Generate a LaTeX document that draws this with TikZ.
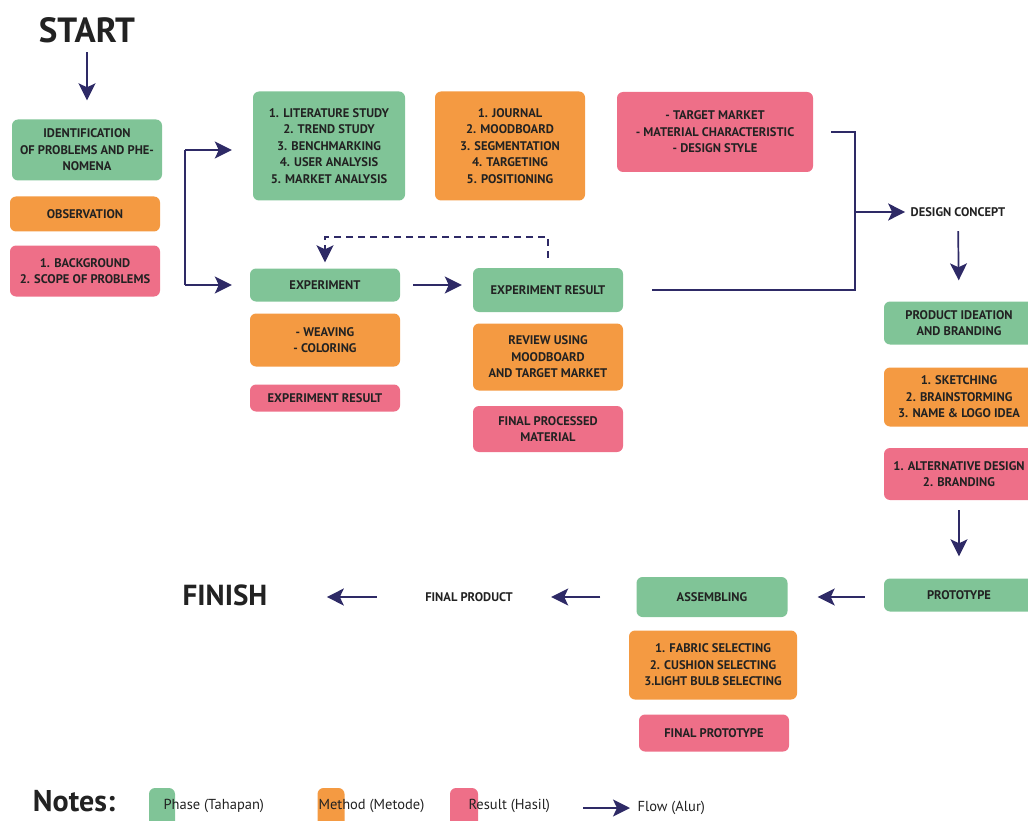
\documentclass[tikz,border=0pt]{standalone}
\usepackage{fontspec}
\setmainfont{PT Sans}
\usetikzlibrary{positioning,arrows.meta}
\definecolor{phasegreen}{HTML}{80C497}
\definecolor{methodorange}{HTML}{F49A42}
\definecolor{resultpink}{HTML}{EE6F88}
\definecolor{flownavy}{HTML}{2E2A66}
\definecolor{inkgray}{HTML}{222222}

\begin{document}
\begin{tikzpicture}[x=1pt, y=-1pt, font=\fontsize{12.5}{16.5}\selectfont\bfseries, text=inkgray,
	stagebox/.style={rounded corners=6pt, align=center, inner sep=2pt, minimum width=150pt},
	phase/.style={stagebox, fill=phasegreen},
	method/.style={stagebox, fill=methodorange},
	result/.style={stagebox, fill=resultpink},
	link/.style={draw=flownavy, line width=1.7pt},
	flow/.style={link, -{Stealth[length=17pt, width=17pt, inset=4pt]}},
	bigword/.style={font=\fontsize{35}{35}\selectfont\bfseries},
	keytext/.style={anchor=west, font=\fontsize{14.5}{15}\selectfont},]

\useasboundingbox (0,0) rectangle (1028,821);

\node[bigword] (start) at (87,30) {START};
\node[phase, minimum height=61pt] (ident) at (87,150) {IDENTIFICATION\\OF PROBLEMS AND PHE-\\NOMENA};
\node[method, minimum height=35pt] (observ) at (85,214) {OBSERVATION};
\node[result, minimum height=51pt] (backgr) at (85,271) {1. BACKGROUND\\2. SCOPE OF PROBLEMS};

\node[phase, minimum width=152pt, minimum height=109pt] (study) at (329,146) {1. LITERATURE STUDY\\2. TREND STUDY\\3. BENCHMARKING\\4. USER ANALYSIS\\5. MARKET ANALYSIS};
\node[method, minimum height=109pt] (journal) at (510,146) {1. JOURNAL\\2. MOODBOARD\\3. SEGMENTATION\\4. TARGETING\\5. POSITIONING};
\node[result, minimum width=196pt, minimum height=80pt] (target) at (715,132) {- TARGET MARKET\\- MATERIAL CHARACTERISTIC\\- DESIGN STYLE};

\node[phase, minimum height=33pt] (exper) at (325,285) {EXPERIMENT};
\node[method, minimum height=53pt] (weave) at (325,340) {- WEAVING\\- COLORING};
\node[result, minimum height=27pt] (experout) at (325,398) {EXPERIMENT RESULT};

\node[phase, minimum height=44pt] (experres) at (548,290) {EXPERIMENT RESULT};
\node[method, minimum height=67pt] (review) at (548,357) {REVIEW USING\\MOODBOARD\\AND TARGET MARKET};
\node[result, minimum height=46pt] (material) at (548,429) {FINAL PROCESSED\\MATERIAL};

\node (concept) at (958,212) {DESIGN CONCEPT};
\node[phase, minimum height=43pt] (ideation) at (959,323) {PRODUCT IDEATION\\AND BRANDING};
\node[method, minimum height=59pt] (sketch) at (959,397) {1. SKETCHING\\2. BRAINSTORMING\\3. NAME \& LOGO IDEA};
\node[result, minimum height=52pt] (altdesign) at (959,474) {1. ALTERNATIVE DESIGN\\2. BRANDING};
\node[phase, minimum height=33pt] (proto) at (959,595) {PROTOTYPE};

\node[phase, minimum width=151pt, minimum height=40pt] (assemble) at (712,597) {ASSEMBLING};
\node[method, minimum width=168pt, minimum height=69pt] (select) at (713,665) {1. FABRIC SELECTING\\2. CUSHION SELECTING\\3.LIGHT BULB SELECTING};
\node[result, minimum height=37pt] (finalproto) at (714,733) {FINAL PROTOTYPE};

\node (product) at (469,597) {FINAL PRODUCT};
\node[bigword, font=\fontsize{29}{29}\selectfont\bfseries] (finish) at (225,595) {FINISH};

\coordinate (forktop) at (185,150);
\coordinate (forkbot) at (185,285);
\coordinate (joint) at (855,290);

\draw[flow, shorten <=6pt, shorten >=19pt] (start) -- (ident);
\draw[link] (forktop) -- (forkbot);
\draw[flow, shorten >=21pt] (forktop) -- (forktop -| study.west);
\draw[flow, shorten >=18pt] (forkbot) -- (exper.west);
\draw[flow, shorten <=13pt, shorten >=11pt] (exper.east) -- (exper.east -| experres.west);
\draw[flow, dashed, dash pattern=on 7pt off 5pt, shorten <=10pt, shorten >=6pt] (experres.north) -- ++(0,-31) -| (exper.north);
\draw[link, shorten <=29pt, shorten >=18pt] (experres.east) -- (joint) -- (joint |- target.east) -- (target.east);
\draw[flow, shorten >=2pt] (joint |- concept) -- (concept.west);
\draw[flow, shorten <=11pt, shorten >=21pt] (concept.south) -- (ideation.north);
\draw[flow, shorten <=10pt, shorten >=22pt] (altdesign.south) -- (proto.north);
\draw[flow, shorten <=19pt, shorten >=30pt] (proto.west |- assemble) -- (assemble.east);
\draw[flow, shorten <=36pt, shorten >=35pt] (assemble.west) -- (product.east);
\draw[flow, shorten <=45pt, shorten >=56pt] (product.west) -- (product.west -| finish.east);

\node[bigword, font=\fontsize{30}{30}\selectfont\bfseries] (notes) at (74,801) {Notes:};
\node[phase, minimum width=26pt, minimum height=44pt] (keyphase) at (162,810) {};
\node[keytext] (keyphasetext) at (160,806) {Phase (Tahapan)};
\node[method, minimum width=27pt, minimum height=44pt] (keymethod) at (331,810) {};
\node[keytext] (keymethodtext) at (315,806) {Method (Metode)};
\node[result, minimum width=28pt, minimum height=44pt] (keyresult) at (464,810) {};
\node[keytext] (keyresulttext) at (465,806) {Result (Hasil)};
\coordinate (keyflow) at (583,808);
\node[keytext] (keyflowtext) at (634,808) {Flow (Alur)};
\draw[flow, shorten >=4pt] (keyflow) -- (keyflowtext.west);
\end{tikzpicture}
\end{document}
